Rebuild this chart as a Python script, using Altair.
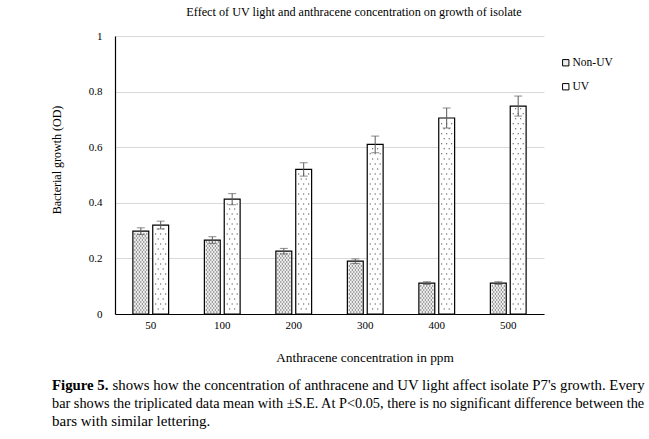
import altair as alt
import pandas as pd

# Anthracene concentrations (ppm) and mean bacterial growth (OD) with S.E.
concentrations = ["50", "100", "200", "300", "400", "500"]
non_uv_mean = [0.298, 0.266, 0.226, 0.190, 0.111, 0.111]
non_uv_se = [0.012, 0.012, 0.010, 0.008, 0.005, 0.005]
uv_mean = [0.320, 0.413, 0.520, 0.610, 0.705, 0.748]
uv_se = [0.014, 0.020, 0.024, 0.030, 0.036, 0.036]
series = ["Non-UV", "UV"]

rows = []
for i, c in enumerate(concentrations):
    rows.append({"conc": c, "group": "Non-UV", "mean": non_uv_mean[i], "se": non_uv_se[i]})
    rows.append({"conc": c, "group": "UV", "mean": uv_mean[i], "se": uv_se[i]})
df = pd.DataFrame(rows)
df["lo"] = df["mean"] - df["se"]
df["hi"] = df["mean"] + df["se"]

FONT = "Liberation Serif"


# Stipple texture: one row of tiny squares per symbol, stacked inside each bar.
def dot_row(offsets_px, half_width_px=8.0):
    parts = []
    s = 0.5 / half_width_px
    for dx in offsets_px:
        cx = dx / half_width_px
        parts.append(f"M{cx - s:.4f},{-s:.4f}h{2 * s:.4f}v{2 * s:.4f}h{-2 * s:.4f}Z")
    return "".join(parts)


textures = {
    # dense stipple: 2px rows, alternating offsets
    "Non-UV": {"step": 0.0072, "rows": [dot_row([-6, -3, 0, 3, 6]),
                                        dot_row([-4.5, -1.5, 1.5, 4.5])]},
    # sparse stipple: ~5px rows, alternating offsets
    "UV": {"step": 0.018, "rows": [dot_row([-5, 0, 5]), dot_row([-2.5, 2.5])]},
}
dot_recs = []
for r in rows:
    tex = textures[r["group"]]
    k = 1
    while k * tex["step"] < r["mean"] - 0.005:
        dot_recs.append({"conc": r["conc"], "group": r["group"], "yv": k * tex["step"],
                         "pat": f"{r['group']}-{k % 2}"})
        k += 1
dots_df = pd.DataFrame(dot_recs)
pat_domain = ["Non-UV-0", "Non-UV-1", "UV-0", "UV-1"]
pat_range = textures["Non-UV"]["rows"] + textures["UV"]["rows"]

x_enc = alt.X("conc:N", sort=concentrations,
              scale=alt.Scale(paddingInner=0.5, paddingOuter=0.25),
              axis=alt.Axis(title=None, labelAngle=0, ticks=False, domainColor="black",
                            domainWidth=1.2, labelFont=FONT, labelFontSize=11,
                            labelColor="black", labelPadding=5))
x_plain = alt.X("conc:N", sort=concentrations)
xo_enc = alt.XOffset("group:N", sort=series, scale=alt.Scale(paddingInner=0.2))
y_scale = alt.Scale(domain=[0, 1])

bars = alt.Chart(df).mark_bar(stroke="black", strokeWidth=1.2).encode(
    x=x_enc,
    xOffset=xo_enc,
    y=alt.Y("mean:Q", scale=y_scale,
            axis=alt.Axis(title=None, values=[0, 0.2, 0.4, 0.6, 0.8, 1], ticks=False,
                          domainColor="black", domainWidth=1.2, gridColor="#d9d9d9",
                          labelFont=FONT, labelFontSize=11, labelColor="black",
                          labelPadding=13, format="~g")),
    fill=alt.Fill("group:N", sort=series,
                  scale=alt.Scale(domain=series, range=["#eeeeee", "#ffffff"]),
                  legend=alt.Legend(title=None, orient="none", legendX=445, legendY=21,
                                    symbolType="square", symbolSize=40,
                                    symbolStrokeColor="black", symbolStrokeWidth=1,
                                    labelFont=FONT, labelFontSize=11.5, labelColor="black",
                                    labelOffset=1, rowPadding=11)),
)

dots = alt.Chart(dots_df).mark_point(filled=True, color="black", opacity=0.85,
                                     size=256, strokeWidth=0).encode(
    x=x_plain, xOffset=xo_enc, y=alt.Y("yv:Q"),
    shape=alt.Shape("pat:N", scale=alt.Scale(domain=pat_domain, range=pat_range),
                    legend=None),
)

err_color = "#595959"
rules = alt.Chart(df).mark_rule(color=err_color, strokeWidth=1).encode(
    x=x_plain, xOffset=xo_enc, y="lo:Q", y2="hi:Q")
caps_lo = alt.Chart(df).mark_tick(color=err_color, thickness=1, size=8).encode(
    x=x_plain, xOffset=xo_enc, y="lo:Q")
caps_hi = alt.Chart(df).mark_tick(color=err_color, thickness=1, size=8).encode(
    x=x_plain, xOffset=xo_enc, y="hi:Q")


def label(text, x, y, size=11, weight="normal", angle=0, align="center"):
    return alt.Chart(pd.DataFrame({"t": [text]})).mark_text(
        font=FONT, fontSize=size, fontWeight=weight, angle=angle, align=align,
        baseline="middle", color="black").encode(
        text="t:N", x=alt.value(x), y=alt.value(y))


title = label("Effect of UV light and anthracene concentration  on growth  of isolate", 239, -24, size=12.2)
y_title = label("Bacterial growth (OD)", -58, 124, size=12, angle=270)
x_title = label("Anthracene concentration in ppm", 250, 322, size=13.3)

cap1a = label("Figure 5.", -63, 350, size=14.8, weight="bold", align="left")
cap1b = label("shows how the concentration of anthracene and UV light affect isolate P7's growth. Every",
              -2.5, 350, size=14.8, align="left")
cap2 = label("bar shows the triplicated data mean with \u00b1S.E. At P<0.05, there is no significant difference between the",
             -63, 368, size=14.3, align="left")
cap3 = label("bars with similar lettering.", -63, 385, size=15, align="left")

chart = alt.layer(bars, dots, rules, caps_lo, caps_hi, title, y_title, x_title,
                  cap1a, cap1b, cap2, cap3).properties(
    width=429, height=278,
    autosize=alt.AutoSizeParams(type="none"),
    padding={"left": 115, "top": 36, "right": 105, "bottom": 125},
    background="white",
).configure_view(stroke=None)

chart.save("out.html", embed_options={"renderer": "svg", "actions": False})
